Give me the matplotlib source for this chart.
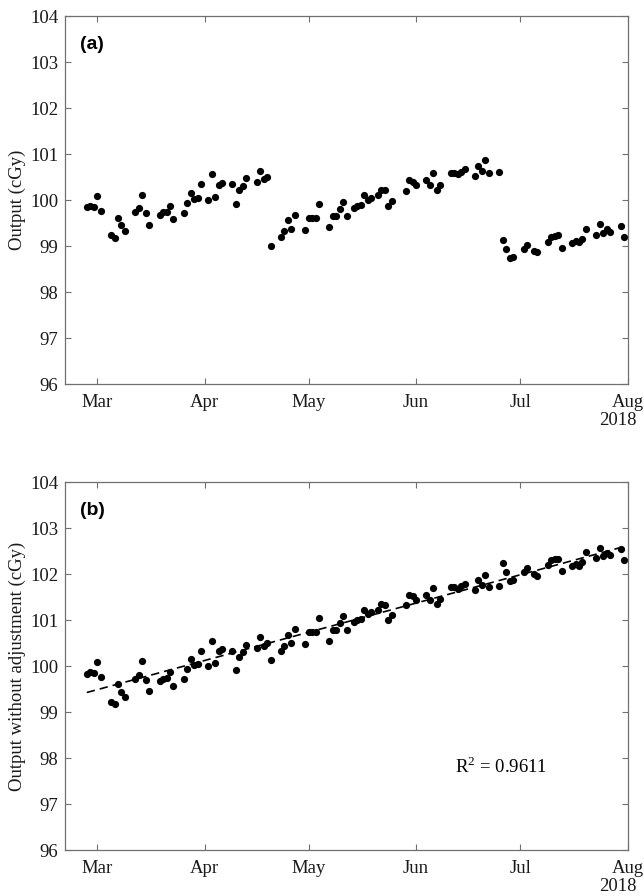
import numpy as np
import matplotlib
matplotlib.use("Agg")
import matplotlib.pyplot as plt
import matplotlib.dates as mdates

# days counted from 1 March 2018
days = [-3, -2, -1, 0, 1, 4, 5, 6, 7, 8, 11, 12, 13, 14, 15, 18, 19, 20, 21, 22,
        25, 26, 27, 28, 29, 30, 32, 33, 34, 35, 36, 39, 40, 41, 42, 43, 46, 47, 48, 49,
        50, 53, 54, 55, 56, 57, 60, 61, 62, 63, 64, 67, 68, 69, 70, 71, 72, 74, 75, 76,
        77, 78, 79, 81, 82, 83, 84, 85, 89, 90, 91, 92, 95, 96, 97, 98, 99, 102, 103, 104,
        105, 106, 109, 110, 111, 112, 113, 116,
        117, 118, 119, 120, 123, 124, 126, 127, 130, 131, 132, 133, 134, 137, 138, 139,
        140, 141, 144, 145, 146, 147, 148, 151, 152]

# panel (a): measured output (cGy)
output = [99.84, 99.87, 99.85, 100.09, 99.77, 99.23, 99.18, 99.62, 99.45, 99.33,
          99.73, 99.82, 100.11, 99.71, 99.46, 99.68, 99.73, 99.74, 99.88, 99.58,
          99.72, 99.94, 100.15, 100.02, 100.04, 100.34, 100.00, 100.56, 100.07, 100.33,
          100.38, 100.34, 99.91, 100.21, 100.31, 100.47, 100.40, 100.64, 100.45, 100.50,
          99.00, 99.20, 99.32, 99.56, 99.37, 99.68, 99.35, 99.62, 99.62, 99.62,
          99.91, 99.41, 99.65, 99.66, 99.81, 99.96, 99.66, 99.83, 99.88, 99.90,
          100.10, 100.00, 100.05, 100.10, 100.22, 100.21, 99.88, 99.98, 100.20, 100.43,
          100.40, 100.32, 100.43, 100.32, 100.58, 100.22, 100.33, 100.59, 100.59, 100.56,
          100.61, 100.67, 100.53, 100.75, 100.64, 100.86, 100.59, 100.62,
          99.13, 98.93, 98.74, 98.77, 98.94, 99.03, 98.90, 98.86, 99.09, 99.20,
          99.22, 99.23, 98.96, 99.07, 99.12, 99.08, 99.15, 99.37, 99.25, 99.47,
          99.29, 99.36, 99.31, 99.44, 99.20]

# panel (b): output without adjustment (cGy)
output_raw = [99.84, 99.87, 99.85, 100.09, 99.77, 99.23, 99.18, 99.62, 99.45, 99.33,
              99.73, 99.82, 100.11, 99.71, 99.46, 99.68, 99.73, 99.74, 99.88, 99.58,
              99.72, 99.94, 100.15, 100.02, 100.04, 100.34, 100.00, 100.56, 100.07, 100.33,
              100.38, 100.34, 99.91, 100.21, 100.31, 100.47, 100.40, 100.64, 100.45, 100.50,
              100.13, 100.33, 100.45, 100.69, 100.50, 100.81, 100.48, 100.75, 100.75, 100.75,
              101.04, 100.54, 100.78, 100.79, 100.94, 101.09, 100.79, 100.96, 101.01, 101.03,
              101.23, 101.13, 101.18, 101.23, 101.35, 101.34, 101.01, 101.11, 101.33, 101.56,
              101.53, 101.45, 101.56, 101.45, 101.71, 101.35, 101.46, 101.72, 101.72, 101.69,
              101.74, 101.80, 101.66, 101.88, 101.77, 101.99, 101.72, 101.75,
              102.24, 102.04, 101.85, 101.88, 102.05, 102.14, 102.01, 101.97, 102.20, 102.31,
              102.33, 102.34, 102.07, 102.18, 102.23, 102.19, 102.26, 102.48, 102.36, 102.58,
              102.40, 102.47, 102.42, 102.55, 102.31]

r2_text = "R$^2$ = 0.9611"

base = np.datetime64("2018-03-01")
dates = base + np.array(days).astype("timedelta64[D]")

plt.rcParams["font.family"] = ["Liberation Serif", "DejaVu Serif"]
plt.rcParams["mathtext.fontset"] = "custom"
plt.rcParams["mathtext.rm"] = "Liberation Serif"

frame = "#707070"

fig = plt.figure(figsize=(6.44, 8.96), dpi=100)
ax1 = fig.add_axes([0.1014, 0.5714, 0.873, 0.4107])
ax2 = fig.add_axes([0.1014, 0.0510, 0.873, 0.4107])


def style(ax, ylabel, tag):
    ax.set_xlim(base - np.timedelta64(221, "h"), np.datetime64("2018-08-01"))
    ax.set_ylim(96, 104)
    ax.set_yticks(range(96, 105))
    ax.xaxis.set_major_locator(mdates.MonthLocator())
    ax.xaxis.set_major_formatter(mdates.DateFormatter("%b"))
    ax.tick_params(direction="in", top=True, right=True, length=4,
                   color=frame, labelsize=13.5, labelcolor="#1a1a1a")
    ax.tick_params(axis="x", pad=7)
    ax.tick_params(axis="y", pad=5)
    for s in ax.spines.values():
        s.set_color(frame)
        s.set_linewidth(0.9)
    ax.set_ylabel(ylabel, fontsize=13.5, color="#1a1a1a", labelpad=3)
    ax.annotate("2018", xy=(1, 0), xycoords="axes fraction", xytext=(-7, -26),
                textcoords="offset points", ha="center", va="center",
                fontsize=13.5, color="#1a1a1a")
    ax.text(0.026, 0.924, tag, transform=ax.transAxes, fontsize=14,
            fontweight="bold", family=["Liberation Sans", "DejaVu Sans"],
            va="center", ha="left")


ax1.plot(dates, output, "o", color="black", markersize=5.2, markeredgewidth=0)
style(ax1, "Output (cGy)", "(a)")

ax2.plot(dates, output_raw, "o", color="black", markersize=5.2, markeredgewidth=0)
xnum = mdates.date2num(dates)
k, b0 = np.polyfit(xnum, output_raw, 1)
xs = np.array([xnum[0], xnum[-1]])
ax2.plot(mdates.num2date(xs), k * xs + b0, color="black", lw=1.2, dashes=(5, 3))
ax2.text(0.694, 0.228, r2_text, transform=ax2.transAxes, fontsize=13.5,
         va="center", ha="left")
style(ax2, "Output without adjustment (cGy)", "(b)")

fig.savefig("out.png", dpi=100)
